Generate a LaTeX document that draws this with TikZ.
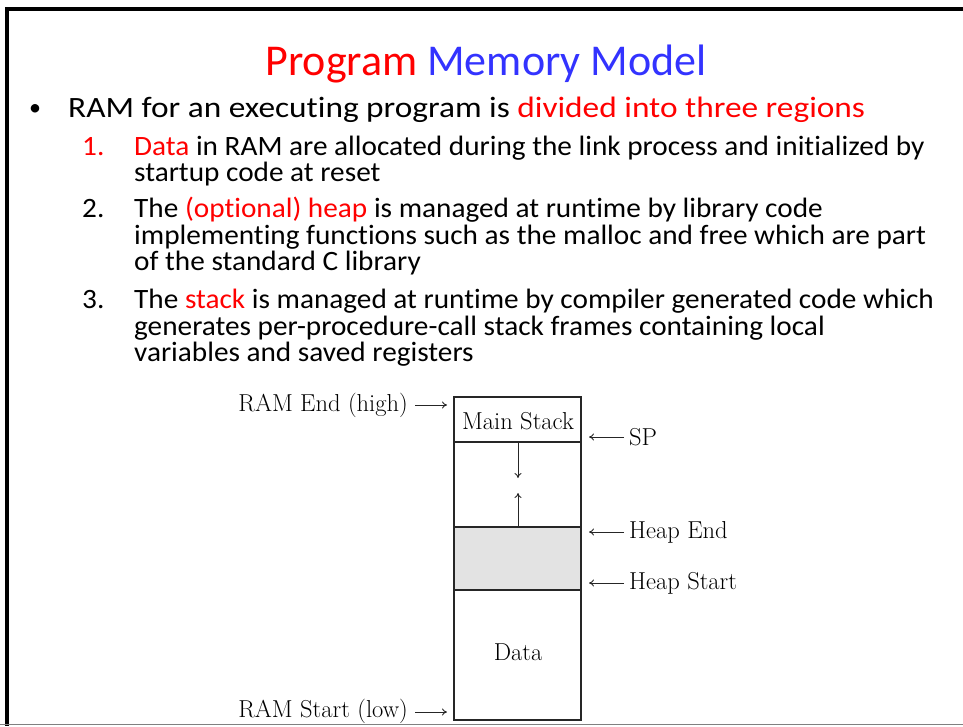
\documentclass[tikz,border=0pt]{standalone}
\usepackage{fontspec}
\newfontfamily\slide[Ligatures=NoCommon]{Carlito}
\newfontfamily\slidebody[Ligatures=NoCommon,FakeStretch=1.13]{Carlito}
\newfontfamily\slidesub[Ligatures=NoCommon,FakeStretch=1.045]{Carlito}
\usetikzlibrary{arrows.meta}
\definecolor{tred}{HTML}{FF0000}
\definecolor{tblue}{HTML}{3333FF}
\definecolor{heapgray}{HTML}{E3E3E3}
\begin{document}
\begin{tikzpicture}[x=1pt,y=-1pt,
  ttl/.style={anchor=base,inner sep=0pt,font=\slide\fontsize{44}{50}\selectfont},
  body/.style={anchor=base west,inner sep=0pt,font=\slidebody\fontsize{29.5}{32}\selectfont},
  sub/.style={anchor=base west,inner sep=0pt,font=\slidesub\fontsize{28}{30}\selectfont},
  lab/.style={inner sep=0pt,font=\fontsize{24.5}{28}\selectfont},
  seg/.style={draw=black!85,line width=1.3pt},
  ptr/.style={draw=black!85,line width=0.9pt,-{To[length=5pt,width=7pt]}},
  frame/.style={draw=black,line width=4pt}
]
\useasboundingbox (0,0) rectangle (963,726);
% slide frame
\draw[frame] (963,9) -- (7,9) -- (7,726);
\draw[draw=gray,line width=1.5pt] (0,724.5) -- (963,724.5);

% title
\node[ttl] (title) at (486,75) {\textcolor{tred}{Program} \textcolor{tblue}{Memory Model}};

% bullet text
\node[anchor=base west,inner sep=0pt,font=\slide\fontsize{24}{28}\selectfont] (bul) at (29,115) {•};
\node[body] (b0) at (68,117) {RAM for an executing program is \textcolor{tred}{divided into three regions}};
\node[sub] (n1) at (82,155) {\textcolor{tred}{1.}};
\node[sub] (l1a) at (134,155) {\textcolor{tred}{Data} in RAM are allocated during the link process and initialized by};
\node[sub] (l1b) at (134,181) {startup code at reset};
\node[sub] (n2) at (82,217) {2.};
\node[sub] (l2a) at (134,217) {The \textcolor{tred}{(optional) heap} is managed at runtime by library code};
\node[sub] (l2b) at (134,244) {implementing functions such as the malloc and free which are part};
\node[sub] (l2c) at (134,270) {of the standard C library};
\node[sub] (n3) at (82,308) {3.};
\node[sub] (l3a) at (134,308) {The \textcolor{tred}{stack} is managed at runtime by compiler generated code which};
\node[sub] (l3b) at (134,335) {generates per-procedure-call stack frames containing local};
\node[sub] (l3c) at (134,361) {variables and saved registers};

% memory column
\fill[heapgray] (454,527) rectangle (581,590);
\coordinate (tl) at (454,397);
\coordinate (br) at (581,720);
\draw[seg] (tl) rectangle (br);
\coordinate (s1) at (454,442); \coordinate (s1r) at (581,442);
\coordinate (s2) at (454,527); \coordinate (s2r) at (581,527);
\coordinate (s3) at (454,590); \coordinate (s3r) at (581,590);
\draw[seg] (s1) -- (s1r);
\draw[seg] (s2) -- (s2r);
\draw[seg] (s3) -- (s3r);
\node[lab] (ms) at (518,421) {Main Stack};
\node[lab] (data) at (518,652) {Data};

% growth arrows
\coordinate (dn0) at (518,442); \coordinate (dn1) at (518,478);
\coordinate (up0) at (518,527); \coordinate (up1) at (518,493);
\draw[ptr] (dn0) -- (dn1);
\draw[ptr] (up0) -- (up1);

% left labels
\node[lab,anchor=east] (rend) at (408,405) {RAM End (high)};
\node[lab,anchor=east] (rstart) at (408,711) {RAM Start (low)};
\coordinate (rendA) at (447,405);
\coordinate (rstartA) at (447,712);
\draw[ptr] ([xshift=7pt]rend.east |- rendA) -- (rendA);
\draw[ptr] ([xshift=7pt]rstart.east |- rstartA) -- (rstartA);

% right labels
\node[lab,anchor=west] (sp) at (629,437) {SP};
\node[lab,anchor=west] (he) at (629,532) {Heap End};
\node[lab,anchor=west] (hs) at (629,583) {Heap Start};
\coordinate (spA) at (589,437);
\coordinate (heA) at (589,532);
\coordinate (hsA) at (589,583);
\draw[ptr] ([xshift=-5pt]sp.west |- spA) -- (spA);
\draw[ptr] ([xshift=-5pt]he.west |- heA) -- (heA);
\draw[ptr] ([xshift=-5pt]hs.west |- hsA) -- (hsA);
\end{tikzpicture}
\end{document}
